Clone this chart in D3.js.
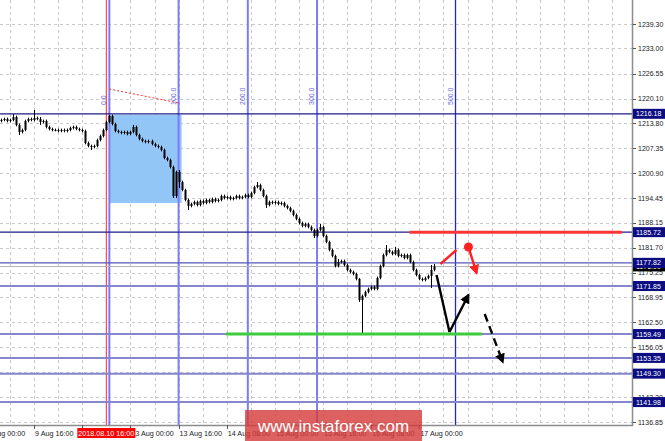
<!DOCTYPE html>
<html><head><meta charset="utf-8">
<script src="https://cdn.jsdelivr.net/npm/d3@7"></script>
<style>html,body{margin:0;padding:0;background:#fff;overflow:hidden}svg{display:block;font-family:"Liberation Sans",Arial,sans-serif}</style>
</head><body>
<script>
// ---------- DATA ----------
const firstOpen = 1214.33;
const closes = [1214.59,1214.85,1214.33,1214.59,1215.36,1213.31,1211.50,1212.02,1214.33,1214.85,
1214.59,1215.11,1214.85,1214.08,1214.33,1212.79,1212.27,1212.02,1212.02,1211.76,
1212.02,1211.76,1212.02,1212.53,1212.79,1212.27,1212.02,1211.76,1208.67,1207.90,
1207.64,1207.90,1209.44,1210.47,1212.02,1214.08,1215.62,1213.56,1211.76,1211.50,
1211.25,1211.50,1210.99,1211.50,1212.79,1210.73,1209.70,1209.19,1208.93,1209.19,
1208.41,1207.90,1207.64,1206.87,1204.81,1204.30,1202.49,1195.03,1201.21,1198.63,
1196.57,1194.00,1192.46,1192.97,1193.49,1192.71,1193.74,1193.23,1194.00,1193.49,
1194.26,1193.74,1194.00,1195.03,1194.51,1194.77,1194.26,1194.51,1195.03,1194.51,
1194.77,1195.29,1194.77,1195.80,1197.35,1197.86,1196.57,1195.03,1192.71,1193.49,
1193.23,1193.49,1192.97,1193.23,1192.46,1191.94,1191.17,1190.14,1189.11,1188.08,
1187.31,1187.82,1187.05,1186.28,1184.73,1186.28,1187.05,1184.73,1183.19,1181.13,
1179.59,1177.01,1178.04,1178.30,1177.27,1175.98,1175.47,1174.95,1173.67,1168.26,
1169.29,1170.32,1171.09,1171.61,1171.09,1173.92,1177.01,1179.84,1181.13,1180.62,
1180.10,1181.13,1179.59,1179.84,1179.07,1179.84,1178.04,1175.98,1174.69,1173.67,
1173.41,1173.92,1174.44,1175.98,1176.90];
const highs = [1214.94,1215.20,1215.20,1214.94,1216.14,1215.71,1213.66,1212.37,1214.68,1215.20,
1215.20,1217.17,1215.46,1215.36,1214.68,1214.68,1213.14,1212.62,1212.37,1212.37,
1212.37,1212.37,1212.37,1212.88,1213.14,1213.14,1212.62,1212.37,1212.11,1209.02,
1208.25,1208.25,1209.79,1210.82,1212.37,1214.43,1215.88,1215.97,1213.91,1212.11,
1211.85,1211.85,1211.85,1211.85,1213.31,1213.14,1211.08,1210.05,1209.54,1209.54,
1209.54,1208.76,1208.25,1207.99,1207.22,1205.16,1204.65,1202.84,1201.56,1201.72,
1198.98,1196.92,1194.35,1193.32,1193.84,1193.84,1194.09,1194.09,1194.35,1194.35,
1194.61,1194.61,1194.35,1195.38,1195.38,1195.12,1195.12,1194.86,1195.38,1195.38,
1195.12,1195.64,1195.64,1196.15,1197.70,1198.63,1198.21,1196.92,1195.38,1193.84,
1193.84,1193.84,1193.84,1193.58,1193.58,1192.81,1192.29,1191.52,1190.49,1189.46,
1188.43,1188.17,1188.17,1187.40,1186.63,1186.63,1187.82,1187.40,1185.08,1183.54,
1181.48,1179.94,1178.81,1178.65,1178.65,1177.62,1176.33,1175.82,1175.30,1173.92,
1169.64,1170.67,1171.44,1171.96,1171.96,1174.27,1177.36,1180.19,1182.42,1181.48,
1180.97,1181.90,1181.48,1180.19,1180.19,1180.19,1180.19,1178.39,1176.33,1175.04,
1174.02,1174.27,1174.79,1177.27,1177.53];
const lows = [1213.98,1214.24,1213.98,1213.98,1214.24,1212.96,1210.73,1211.15,1211.67,1213.98,
1214.24,1214.24,1214.50,1213.31,1213.73,1212.44,1211.92,1211.67,1211.67,1211.41,
1211.41,1211.41,1211.41,1211.67,1212.18,1211.92,1211.67,1211.41,1208.32,1207.55,
1206.87,1207.29,1207.55,1209.09,1210.12,1211.67,1213.73,1213.21,1211.41,1211.15,
1210.90,1210.90,1210.64,1210.64,1211.15,1210.38,1209.35,1208.84,1208.58,1208.58,
1208.06,1207.55,1207.29,1206.52,1204.46,1203.95,1202.14,1194.51,1194.51,1197.09,
1196.22,1193.65,1191.43,1192.11,1192.62,1192.36,1192.36,1192.88,1192.88,1193.14,
1193.14,1193.39,1193.39,1193.65,1194.16,1194.16,1193.91,1193.91,1194.16,1194.16,
1194.16,1194.42,1194.42,1194.42,1195.45,1197.00,1196.22,1194.68,1191.94,1192.36,
1192.88,1192.88,1192.62,1192.62,1192.11,1191.59,1190.82,1189.79,1188.76,1187.73,
1186.96,1186.96,1186.70,1185.93,1184.22,1184.38,1185.93,1184.38,1182.84,1180.78,
1179.24,1176.66,1176.66,1177.69,1176.92,1175.63,1175.12,1174.60,1173.32,1167.75,
1159.51,1168.94,1169.97,1170.74,1170.74,1170.74,1173.57,1176.66,1179.49,1180.27,
1179.75,1179.75,1179.24,1179.24,1178.72,1178.72,1177.69,1175.63,1174.34,1173.32,
1173.06,1173.06,1173.57,1171.35,1175.63];

const yTicks = [1239.30,1233.00,1226.55,1220.10,1213.80,1207.35,1200.90,1194.45,1188.15,1181.70,1175.25,1168.95,1162.50,1156.05,1149.60,1143.20,1136.85];
const timeLabels = ["9 Aug 00:00","9 Aug 16:00","10 Aug 08:00","13 Aug 00:00","13 Aug 16:00","14 Aug 08:00","15 Aug 00:00","15 Aug 16:00","16 Aug 08:00","17 Aug 00:00"];
const timeLabelBars = [-5,11,27,43,59,75,91,107,123,139];
const levels = [1216.18,1185.72,1177.82,1171.85,1159.49,1153.35,1149.30,1141.98];
const bidPrice = 1176.90;
const markerBar = 35, markerLabel = "2018.08.10 16:00";
const fibBars = [36,59,82,105,151];
const fibLabels = ["0.0","100.0","200.0","300.0","500.0"];
const fibTrend = [[36,1222.57],[59,1218.97]];
const boxBars = [36,60], boxPrices = [1215.90,1193.23];
const resistSeg = {bars:[135.7,206.3], price:1185.72};
const supportSeg = {bars:[74.7,159.7], price:1159.49};
const redLine = [[146,1177.52],[151.3,1181.13]];
const redDot = [155.3,1181.9];
const redArrow = [[155.3,1181.9],[158,1175.2]];
const blackPath = [[144.7,1174.69],[149,1160.02]];
const blackArrow = [[149,1160.02],[155.3,1169.55]];
const dashedArrow = [[160.7,1164.65],[166.7,1152.3]];
const watermark = "www.instaforex.com";

// ---------- CHART ----------
const W=665,H=441, plotR=632, plotB=425;
const svg=d3.select("body").append("svg").attr("width",W).attr("height",H);
const x=d3.scaleLinear().domain([0,100]).range([1,302]);
const y=d3.scaleLinear().domain([1136.85,1239.30]).range([422,24]);
const defs=svg.append("defs");
defs.append("clipPath").attr("id","clip").append("rect").attr("x",0).attr("y",0).attr("width",plotR).attr("height",plotB);
function mk(id,color){defs.append("marker").attr("id",id).attr("viewBox","0 0 10 10").attr("refX",8).attr("refY",5)
 .attr("markerWidth",4.2).attr("markerHeight",4.2).attr("orient","auto").attr("markerUnits","strokeWidth")
 .append("path").attr("d","M0,0 L10,5 L0,10 z").attr("fill",color);}
mk("ahR","#ff2020");mk("ahK","#000");

const g=svg.append("g").attr("clip-path","url(#clip)");
// grid
const gridBars=d3.range(3,212,8);
g.selectAll(".vg").data(gridBars).join("line").attr("x1",d=>Math.round(x(d))+.5).attr("x2",d=>Math.round(x(d))+.5)
 .attr("y1",0).attr("y2",plotB).attr("stroke","#c8c8c8").attr("stroke-dasharray","3,3");
g.selectAll(".hg").data(yTicks).join("line").attr("y1",d=>Math.round(y(d))+.5).attr("y2",d=>Math.round(y(d))+.5)
 .attr("x1",0).attr("x2",plotR).attr("stroke","#c8c8c8").attr("stroke-dasharray","3,3");
// rectangle
g.append("rect").attr("x",x(boxBars[0])).attr("width",x(boxBars[1])-x(boxBars[0]))
 .attr("y",y(boxPrices[0])).attr("height",y(boxPrices[1])-y(boxPrices[0])).attr("fill","#92c6f7");
// red vertical
g.append("line").attr("x1",x(markerBar)).attr("x2",x(markerBar)).attr("y1",0).attr("y2",plotB).attr("stroke","#ff4a4a").attr("stroke-width",1.2);
// fib verticals
fibBars.forEach((b,i)=>{
 const last=i===fibBars.length-1;
 g.append("line").attr("x1",x(b)).attr("x2",x(b)).attr("y1",0).attr("y2",plotB)
  .attr("stroke",last?"#2424d8":"#7c7cf4").attr("stroke-width",last?1.3:2);
 g.append("text").attr("transform",`translate(${x(b)-3},105) rotate(-90)`).attr("text-anchor","start")
  .attr("font-size",7).attr("fill","#6666e8").text(fibLabels[i]);
});
g.append("line").attr("x1",x(fibTrend[0][0])).attr("y1",y(fibTrend[0][1])).attr("x2",x(fibTrend[1][0])).attr("y2",y(fibTrend[1][1]))
 .attr("stroke","#ff3030").attr("stroke-dasharray","2,2");
// horizontal levels
const lvlColor=i=>i<2?"#1c1c86":(i===2?"#5656b8":"#8686cc");
const lvlW=i=>i<2?1.3:(i===2?1.2:2);
levels.forEach((p,i)=>{g.append("line").attr("x1",0).attr("x2",plotR).attr("y1",y(p)).attr("y2",y(p))
 .attr("stroke",lvlColor(i)).attr("stroke-width",lvlW(i));});
g.append("line").attr("x1",0).attr("x2",plotR).attr("y1",Math.round(y(bidPrice))+.5).attr("y2",Math.round(y(bidPrice))+.5).attr("stroke","#b4b4b4");
// candles
const bars=closes.map((c,i)=>({i,o:i?closes[i-1]:firstOpen,c,h:highs[i],l:lows[i]}));
const cg=g.append("g");
cg.selectAll(".wk").data(bars).join("line").attr("x1",d=>Math.round(x(d.i))+.5).attr("x2",d=>Math.round(x(d.i))+.5)
 .attr("y1",d=>y(d.h)).attr("y2",d=>y(d.l)).attr("stroke","#000").attr("stroke-width",1);
cg.selectAll(".bd").data(bars).join("rect").attr("x",d=>Math.round(x(d.i))-0.5).attr("width",2)
 .attr("y",d=>y(Math.max(d.o,d.c))).attr("height",d=>Math.max(1,Math.abs(y(d.o)-y(d.c)))).attr("fill","#000");
// segments
g.append("line").attr("x1",x(resistSeg.bars[0])).attr("x2",x(resistSeg.bars[1])).attr("y1",y(resistSeg.price)).attr("y2",y(resistSeg.price)).attr("stroke","#ff3636").attr("stroke-width",3);
g.append("line").attr("x1",x(supportSeg.bars[0])).attr("x2",x(supportSeg.bars[1])).attr("y1",y(supportSeg.price)).attr("y2",y(supportSeg.price)).attr("stroke","#3ccc3c").attr("stroke-width",3);
// arrows
const ln=d3.line().x(d=>x(d[0])).y(d=>y(d[1]));
g.append("path").attr("d",ln(redLine)).attr("stroke","#ff2020").attr("stroke-width",2.4).attr("fill","none");
g.append("path").attr("d",ln(redArrow)).attr("stroke","#ff2020").attr("stroke-width",2.4).attr("fill","none").attr("marker-end","url(#ahR)");
g.append("circle").attr("cx",x(redDot[0])).attr("cy",y(redDot[1])).attr("r",4.5).attr("fill","#ff2020");
g.append("path").attr("d",ln(blackPath)).attr("stroke","#000").attr("stroke-width",2.4).attr("fill","none");
g.append("path").attr("d",ln(blackArrow)).attr("stroke","#000").attr("stroke-width",2.4).attr("fill","none").attr("marker-end","url(#ahK)");
g.append("path").attr("d",ln(dashedArrow)).attr("stroke","#000").attr("stroke-width",2.4).attr("fill","none").attr("stroke-dasharray","8,5").attr("marker-end","url(#ahK)");

// axes
svg.append("line").attr("x1",plotR+.5).attr("x2",plotR+.5).attr("y1",0).attr("y2",plotB+1).attr("stroke","#8c8c8c").attr("stroke-width",1.5);
svg.append("line").attr("x1",0).attr("x2",plotR+1).attr("y1",plotB+.5).attr("y2",plotB+.5).attr("stroke","#8c8c8c").attr("stroke-width",1.5);
const ya=svg.append("g").attr("font-size",7).attr("fill","#222");
yTicks.forEach(t=>{
 ya.append("line").attr("x1",plotR+1).attr("x2",plotR+4).attr("y1",Math.round(y(t))+.5).attr("y2",Math.round(y(t))+.5).attr("stroke","#555");
 ya.append("text").attr("x",638).attr("y",y(t)+2.5).text(t.toFixed(2));
});
// bid label
function priceLabel(p,bg){
 ya.append("rect").attr("x",plotR+1).attr("y",y(p)-5).attr("width",W-plotR).attr("height",10).attr("fill",bg);
 ya.append("text").attr("x",636).attr("y",y(p)+2.6).attr("fill","#fff").text(p.toFixed(2));
}
priceLabel(bidPrice,"#000");
levels.forEach(p=>priceLabel(p,"#0b0b82"));
// time axis
const xa=svg.append("g").attr("font-size",7.2).attr("fill","#222");
timeLabelBars.forEach((b,i)=>{
 xa.append("line").attr("x1",Math.round(x(b))+.5).attr("x2",Math.round(x(b))+.5).attr("y1",plotB).attr("y2",plotB+4).attr("stroke","#555");
 xa.append("text").attr("x",x(b)+1).attr("y",436).text(timeLabels[i]);
});
const mx=x(markerBar);
xa.append("rect").attr("x",mx-29).attr("y",428).attr("width",58).attr("height",10).attr("fill","#ff0000");
xa.append("text").attr("x",mx).attr("y",436).attr("text-anchor","middle").attr("fill","#fff").text(markerLabel);
// watermark
svg.append("rect").attr("x",245).attr("y",410).attr("width",177).attr("height",31).attr("fill","rgba(214,58,58,0.8)");
svg.append("text").attr("x",333.5).attr("y",432).attr("text-anchor","middle").attr("font-size",17).attr("fill","#fff").text(watermark);
</script>
</body></html>
